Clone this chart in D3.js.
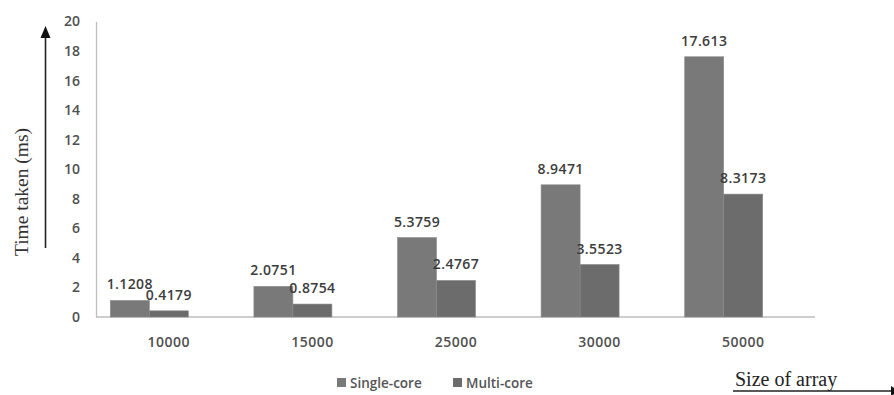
<!DOCTYPE html>
<html>
<head>
<meta charset="utf-8">
<script src="https://cdn.jsdelivr.net/npm/d3@7"></script>
<style>
  html, body { margin: 0; padding: 0; background: #fff; }
  svg { display: block; }
</style>
</head>
<body>
<svg id="chart" width="894" height="395"></svg>
<script>
// Array sizes tested and measured run times (ms)
const categories = ["10000", "15000", "25000", "30000", "50000"];
const singleCore = [1.1208, 2.0751, 5.3759, 8.9471, 17.613];
const multiCore = [0.4179, 0.8754, 2.4767, 3.5523, 8.3173];
const valueLabels = [
  ["1.1208", "2.0751", "5.3759", "8.9471", "17.613"],
  ["0.4179", "0.8754", "2.4767", "3.5523", "8.3173"]
];
const seriesNames = ["Single-core", "Multi-core"];
const yTicks = [0, 2, 4, 6, 8, 10, 12, 14, 16, 18, 20];

const colors = ["#797979", "#6c6c6c"];
const numFont = "'Open Sans', 'Liberation Sans', sans-serif";
const serif = "'Liberation Serif', 'DejaVu Serif', serif";

const svg = d3.select("#chart");

const x = d3.scaleBand().domain(categories).range([77.5, 795.5]);
const xSub = d3.scaleBand().domain(seriesNames).range([0, 78]);
const y = d3.scaleLinear().domain([0, 20]).range([317, 21.5]);

// Y axis
const yAxis = svg.append("g")
  .attr("transform", "translate(96,0)")
  .call(d3.axisLeft(y).tickValues(yTicks).tickSize(0).tickPadding(16));
yAxis.select(".domain").attr("stroke", "#bdbdbd").attr("stroke-width", 1.3);
yAxis.selectAll("text")
  .attr("font-family", numFont).attr("font-size", 14).attr("font-weight", 600)
  .attr("fill", "#505050");

// X axis baseline
svg.append("line")
  .attr("x1", 96).attr("x2", 815)
  .attr("y1", y(0)).attr("y2", y(0))
  .attr("stroke", "#bdbdbd").attr("stroke-width", 1.3);

// X axis labels
const xAxis = svg.append("g")
  .attr("transform", `translate(0,${y(0)})`)
  .call(d3.axisBottom(x).tickSize(0).tickPadding(20));
xAxis.select(".domain").remove();
xAxis.selectAll("text")
  .attr("dx", 19.5)
  .attr("font-family", numFont).attr("font-size", 14).attr("font-weight", 600)
  .attr("fill", "#505050").attr("letter-spacing", 0.5);

// Bars
const rows = categories.map((c, i) => ({
  cat: c,
  vals: [singleCore[i], multiCore[i]],
  labels: [valueLabels[0][i], valueLabels[1][i]]
}));

const groups = svg.append("g").selectAll("g")
  .data(rows).join("g")
  .attr("transform", d => `translate(${x(d.cat) + x.bandwidth() / 2 - 39},0)`);

groups.selectAll("rect")
  .data(d => d.vals.map((v, k) => ({ v, k, s: seriesNames[k] })))
  .join("rect")
  .attr("x", d => xSub(d.s))
  .attr("width", xSub.bandwidth())
  .attr("y", d => y(d.v))
  .attr("height", d => y(0) - y(d.v))
  .attr("fill", d => colors[d.k])
  .attr("stroke", "#8a8a8a").attr("stroke-width", 0.6);

groups.selectAll("text.val")
  .data(d => d.vals.map((v, k) => ({ v, k, s: seriesNames[k], t: d.labels[k] })))
  .join("text")
  .attr("class", "val")
  .attr("x", d => xSub(d.s) + xSub.bandwidth() / 2)
  .attr("y", d => y(d.v) - 11)
  .attr("text-anchor", "middle")
  .attr("font-family", numFont).attr("font-size", 14).attr("font-weight", 600)
  .attr("fill", "#3c3c3c").attr("letter-spacing", 0.4)
  .text(d => d.t);

// Legend
const legend = svg.append("g").attr("transform", "translate(337,383)");
const legendX = [0, 116];
seriesNames.forEach((name, k) => {
  const g = legend.append("g").attr("transform", `translate(${legendX[k]},0)`);
  g.append("rect").attr("x", 0).attr("y", -5).attr("width", 9).attr("height", 9)
    .attr("fill", colors[k]);
  g.append("text").attr("x", 13).attr("y", 5)
    .attr("font-family", numFont).attr("font-size", 13.5).attr("font-weight", 600)
    .attr("fill", "#555").text(name);
});

// Y axis title with upward arrow
svg.append("text")
  .attr("transform", "translate(28,192) rotate(-90)")
  .attr("text-anchor", "middle")
  .attr("font-family", serif).attr("font-size", 19.5)
  .attr("fill", "#333")
  .text("Time taken (ms)");

svg.append("line")
  .attr("x1", 45.5).attr("x2", 45.5).attr("y1", 248).attr("y2", 36)
  .attr("stroke", "#222").attr("stroke-width", 1.6);
svg.append("path")
  .attr("d", "M45.5,26 L40.5,38 L50.5,38 Z")
  .attr("fill", "#111");

// X axis title with rightward arrow
svg.append("text")
  .attr("x", 735).attr("y", 386)
  .attr("font-family", serif).attr("font-size", 20)
  .attr("fill", "#222")
  .text("Size of array");

svg.append("line")
  .attr("x1", 733).attr("x2", 893).attr("y1", 391).attr("y2", 391)
  .attr("stroke", "#222").attr("stroke-width", 1.6);
svg.append("path")
  .attr("d", "M891,386 L899,391 L891,396 Z")
  .attr("fill", "#111");
</script>
</body>
</html>
